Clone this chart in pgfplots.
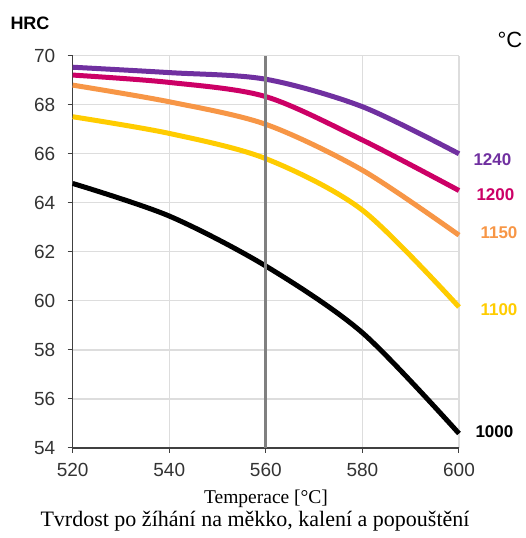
\documentclass[border=0pt]{standalone}
\usepackage{fontspec}
\setmainfont{Liberation Sans}
\newfontfamily\serif{Liberation Serif}
\usepackage{pgfplots}
\pgfplotsset{compat=1.18}
\definecolor{c1240}{HTML}{7030A0}
\definecolor{c1200}{HTML}{CC0066}
\definecolor{c1150}{HTML}{F79646}
\definecolor{c1100}{HTML}{FFCC00}
\definecolor{gridc}{HTML}{DDDDDD}
\definecolor{axc}{HTML}{404040}
\begin{document}
\begin{tikzpicture}[x=1pt,y=1pt]
\path (0,0) rectangle (518,538);
\begin{axis}[
  at={(72.7pt,90pt)}, anchor=south west,
  width=386.3pt, height=392.3pt, scale only axis,
  xmin=520, xmax=600, ymin=54, ymax=70,
  xtick={520,540,...,600}, ytick={54,56,...,70},
  axis x line*=bottom, axis y line*=left,
  axis line style={axc, line width=1.3pt, -},
  tick align=outside, major tick length=5pt,
  tick style={axc, line width=1pt},
  grid=major, grid style={gridc, line width=1.2pt},
  tick label style={font=\fontsize{19}{19}\selectfont, text=black!80},
  /pgf/number format/assume math mode=true,
  /pgf/number format/1000 sep={},
  yticklabel style={xshift=-9pt},
  xticklabel style={yshift=-7pt},
  clip=false,
]
% hardness after tempering, one series per hardening temperature
\addplot[black, line width=5pt, smooth, no marks] coordinates {(520,64.79) (540,63.46) (560,61.42) (580,58.7) (600,54.59)};
\addplot[c1100, line width=5pt, smooth, no marks] coordinates {(520,67.51) (540,66.83) (560,65.8) (580,63.7) (600,59.75)};
\addplot[c1150, line width=5pt, smooth, no marks] coordinates {(520,68.8) (540,68.12) (560,67.2) (580,65.33) (600,62.68)};
\addplot[c1200, line width=5pt, smooth, no marks] coordinates {(520,69.21) (540,68.91) (560,68.33) (580,66.56) (600,64.5)};
\addplot[c1240, line width=5pt, smooth, no marks] coordinates {(520,69.53) (540,69.31) (560,69.04) (580,67.92) (600,66.0)};
\addplot[black!50, line width=3pt, sharp plot, no marks] coordinates {(560,54) (560,70)};
\end{axis}
\begin{scope}[font=\fontsize{17}{17}\selectfont\bfseries]
\node[anchor=west, text=c1240] at (470,378) {1240};
\node[anchor=west, text=c1200] at (473,343) {1200};
\node[anchor=west, text=c1150] at (477,305) {1150};
\node[anchor=west, text=c1100] at (477,228) {1100};
\node[anchor=west, text=black] at (472,106) {1000};
\end{scope}
\node[font=\fontsize{18}{18}\selectfont\bfseries] at (30,515) {HRC};
\node[font=\fontsize{22}{22}\selectfont, anchor=west] at (494,498) {°C};
\node[font=\serif\fontsize{19.5}{19.5}\selectfont] at (266,39) {Temperace [°C]};
\node[font=\serif\fontsize{22}{22}\selectfont] at (255,17) {Tvrdost po žíhání na měkko, kalení a popouštění};
\end{tikzpicture}
\end{document}
